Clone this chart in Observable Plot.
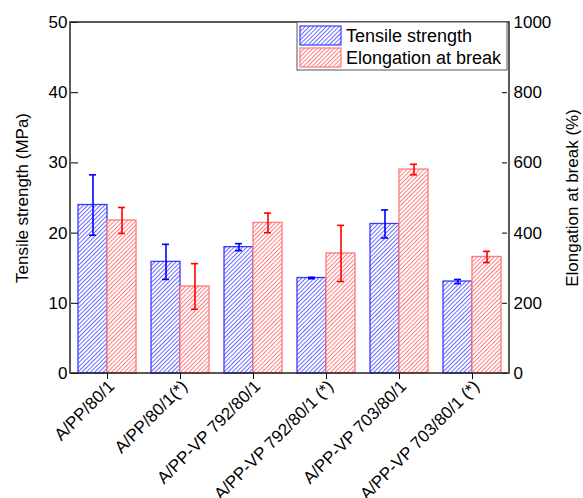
<!DOCTYPE html>
<html>
<head>
<meta charset="utf-8">
<script src="https://cdn.jsdelivr.net/npm/d3@7"></script>
<script src="https://cdn.jsdelivr.net/npm/@observablehq/plot@0.6"></script>
<style>
  html, body { margin: 0; padding: 0; background: #fff; }
  #chart { width: 583px; height: 498px; }
</style>
</head>
<body>
<div id="chart"></div>
<script>
const categories = ["A/PP/80/1", "A/PP/80/1(*)", "A/PP-VP 792/80/1", "A/PP-VP 792/80/1 (*)", "A/PP-VP 703/80/1", "A/PP-VP 703/80/1 (*)"];
const seriesNames = ["Tensile strength", "Elongation at break"];
const tensile = [24.0, 15.9, 18.0, 13.6, 21.3, 13.1];
const tensileErr = [4.3, 2.5, 0.5, 0.1, 2.0, 0.3];
const elongation = [436, 248, 429, 342, 581, 332];
const elongationErr = [37, 65, 28, 80, 15, 16];
const leftTicks = [0, 10, 20, 30, 40, 50];
const rightTicks = [0, 200, 400, 600, 800, 1000];

const ratio = 1000 / 50; // right axis units per left axis unit
const rows = [];
categories.forEach((c, i) => {
  rows.push({cat: c, s: seriesNames[0], v: tensile[i], lo: tensile[i] - tensileErr[i], hi: tensile[i] + tensileErr[i]});
  rows.push({cat: c, s: seriesNames[1], v: elongation[i] / ratio, lo: (elongation[i] - elongationErr[i]) / ratio, hi: (elongation[i] + elongationErr[i]) / ratio});
});
const ts = rows.filter(d => d.s === seriesNames[0]);
const eb = rows.filter(d => d.s === seriesNames[1]);

const BLUE = "#0000ff", RED = "#ff0000";
const blueEdge = "#3a3aff", redEdge = "#ff7a7a";

const W = 583, H = 498, mL = 70, mR = 74, mT = 22, mB = 125;
const font = "'Liberation Sans', Arial, sans-serif";

const plot = Plot.plot({
  width: W, height: H,
  marginLeft: mL, marginRight: mR, marginTop: mT, marginBottom: mB,
  style: {fontFamily: font, fontSize: "17px", color: "#000", background: "#fff"},
  fx: {domain: categories, paddingInner: 0.2, paddingOuter: 0.1, label: null},
  x: {domain: seriesNames, padding: 0, axis: null},
  y: {domain: [0, 50]},
  marks: [
    Plot.barY(ts, {fx: "cat", x: "s", y: "v", fill: "url(#hatchBlue)", stroke: blueEdge, strokeWidth: 1.3}),
    Plot.barY(eb, {fx: "cat", x: "s", y: "v", fill: "url(#hatchRed)", stroke: redEdge, strokeWidth: 1.3}),
    Plot.ruleX(ts, {fx: "cat", x: "s", y1: "lo", y2: "hi", stroke: BLUE, strokeWidth: 1.6}),
    Plot.ruleX(eb, {fx: "cat", x: "s", y1: "lo", y2: "hi", stroke: RED, strokeWidth: 1.6}),
    Plot.tickY(ts, {fx: "cat", x: "s", y: "hi", stroke: BLUE, strokeWidth: 1.6, insetLeft: 11, insetRight: 11}),
    Plot.tickY(ts, {fx: "cat", x: "s", y: "lo", stroke: BLUE, strokeWidth: 1.6, insetLeft: 11, insetRight: 11}),
    Plot.tickY(eb, {fx: "cat", x: "s", y: "hi", stroke: RED, strokeWidth: 1.6, insetLeft: 11, insetRight: 11}),
    Plot.tickY(eb, {fx: "cat", x: "s", y: "lo", stroke: RED, strokeWidth: 1.6, insetLeft: 11, insetRight: 11}),
    Plot.axisY({anchor: "left", ticks: leftTicks, tickSize: 7, tickPadding: 4, fontSize: 17,
      label: "Tensile strength (MPa)", labelAnchor: "center", labelArrow: false, labelOffset: 63}),
    Plot.axisY({anchor: "right", ticks: rightTicks.map(t => t / ratio), tickFormat: d => String(Math.round(d * ratio)),
      tickSize: 5, tickPadding: 7, fontSize: 17,
      label: "Elongation at break (%)", labelAnchor: "center", labelArrow: false, labelOffset: 76}),
    Plot.axisFx({anchor: "bottom", tickSize: 6, tickFormat: () => "", label: null}),
    Plot.axisFx({anchor: "bottom", tickSize: 0, tickPadding: 7, tickRotate: -45, fontSize: 17, label: null, dx: 4, dy: 3})
  ]
});

const svg = d3.select(plot);
svg.insert("defs", ":first-child").html(`
  <pattern id="hatchBlue" patternUnits="userSpaceOnUse" width="3" height="3" patternTransform="rotate(45)">
    <rect width="3" height="3" fill="#fff"/>
    <line x1="0.5" y1="0" x2="0.5" y2="3" stroke="#5a5aff" stroke-width="0.9"/>
  </pattern>
  <pattern id="hatchRed" patternUnits="userSpaceOnUse" width="3" height="3" patternTransform="rotate(45)">
    <rect width="3" height="3" fill="#fff"/>
    <line x1="0.5" y1="0" x2="0.5" y2="3" stroke="#ff7070" stroke-width="0.9"/>
  </pattern>
`);

// frame around the plotting area
svg.append("rect")
  .attr("x", mL).attr("y", mT).attr("width", W - mL - mR).attr("height", H - mB - mT)
  .attr("fill", "none").attr("stroke", "#222").attr("stroke-width", 1.5);

// legend
const lg = svg.append("g").attr("font-family", font).attr("font-size", 18).attr("text-anchor", "start");
lg.append("rect").attr("x", 297).attr("y", mT).attr("width", 210).attr("height", 48)
  .attr("fill", "#fff").attr("stroke", "#555").attr("stroke-width", 1);
[["url(#hatchBlue)", blueEdge], ["url(#hatchRed)", redEdge]].forEach(([f, s], i) => {
  lg.append("rect").attr("x", 300).attr("y", 26 + i * 22).attr("width", 41).attr("height", 19)
    .attr("fill", f).attr("stroke", s).attr("stroke-width", 1.2);
  lg.append("text").attr("x", 346).attr("y", 42 + i * 22).attr("fill", "#000").text(seriesNames[i]);
});

document.getElementById("chart").appendChild(plot);
</script>
</body>
</html>
